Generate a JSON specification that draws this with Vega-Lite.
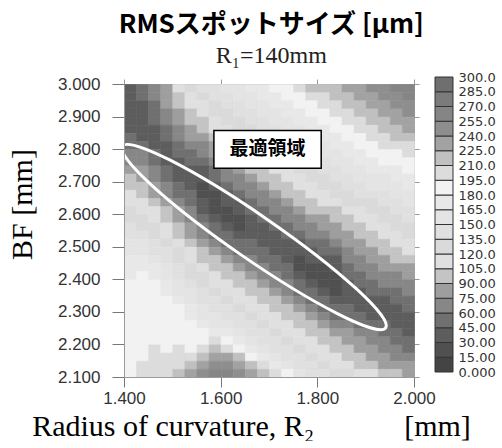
{
"$schema": "https://vega.github.io/schema/vega-lite/v6.json",
"background": "white",
"autosize": {"type": "pad"},
"padding": {"left": 7, "top": 12, "right": 4, "bottom": 0},
"title": {"text": "RMSスポットサイズ [μm]", "subtitle": "R₁=140mm", "font": "Noto Sans CJK JP", "fontSize": 26, "fontWeight": "bold", "color": "#000000", "subtitleFont": "Liberation Serif", "subtitleFontSize": 24, "subtitleColor": "#222222", "subtitlePadding": 6, "anchor": "middle", "dx": 20, "offset": 3},
"datasets": {
"grid": [
{"r":1.4125,"b":2.9875,"v":44},{"r":1.4125,"b":2.9625,"v":41},{"r":1.4125,"b":2.9375,"v":38},{"r":1.4125,"b":2.9125,"v":35},{"r":1.4125,"b":2.8875,"v":34},{"r":1.4125,"b":2.8625,"v":42},{"r":1.4125,"b":2.8375,"v":50},{"r":1.4125,"b":2.8125,"v":58},{"r":1.4125,"b":2.7875,"v":66},{"r":1.4125,"b":2.7625,"v":74},{"r":1.4125,"b":2.7375,"v":82},{"r":1.4125,"b":2.7125,"v":90},{"r":1.4125,"b":2.6875,"v":98},{"r":1.4125,"b":2.6625,"v":106},{"r":1.4125,"b":2.6375,"v":114},{"r":1.4125,"b":2.6125,"v":122},{"r":1.4125,"b":2.5875,"v":130},{"r":1.4125,"b":2.5625,"v":138},{"r":1.4125,"b":2.5375,"v":146},{"r":1.4125,"b":2.5125,"v":154},{"r":1.4125,"b":2.4875,"v":162},{"r":1.4125,"b":2.4625,"v":170},{"r":1.4125,"b":2.4375,"v":177},{"r":1.4125,"b":2.4125,"v":178},{"r":1.4125,"b":2.3875,"v":180},{"r":1.4125,"b":2.3625,"v":181},{"r":1.4125,"b":2.3375,"v":182},{"r":1.4125,"b":2.3125,"v":183},{"r":1.4125,"b":2.2875,"v":185},{"r":1.4125,"b":2.2625,"v":186},{"r":1.4125,"b":2.2375,"v":187},{"r":1.4125,"b":2.2125,"v":188},{"r":1.4125,"b":2.1875,"v":190},{"r":1.4125,"b":2.1625,"v":191},{"r":1.4125,"b":2.1375,"v":192},{"r":1.4125,"b":2.1125,"v":193},
{"r":1.4375,"b":2.9875,"v":52},{"r":1.4375,"b":2.9625,"v":48},{"r":1.4375,"b":2.9375,"v":44},{"r":1.4375,"b":2.9125,"v":40},{"r":1.4375,"b":2.8875,"v":36},{"r":1.4375,"b":2.8625,"v":35},{"r":1.4375,"b":2.8375,"v":44},{"r":1.4375,"b":2.8125,"v":52},{"r":1.4375,"b":2.7875,"v":60},{"r":1.4375,"b":2.7625,"v":68},{"r":1.4375,"b":2.7375,"v":77},{"r":1.4375,"b":2.7125,"v":85},{"r":1.4375,"b":2.6875,"v":93},{"r":1.4375,"b":2.6625,"v":101},{"r":1.4375,"b":2.6375,"v":110},{"r":1.4375,"b":2.6125,"v":118},{"r":1.4375,"b":2.5875,"v":126},{"r":1.4375,"b":2.5625,"v":134},{"r":1.4375,"b":2.5375,"v":143},{"r":1.4375,"b":2.5125,"v":151},{"r":1.4375,"b":2.4875,"v":159},{"r":1.4375,"b":2.4625,"v":167},{"r":1.4375,"b":2.4375,"v":176},{"r":1.4375,"b":2.4125,"v":182},{"r":1.4375,"b":2.3875,"v":183},{"r":1.4375,"b":2.3625,"v":184},{"r":1.4375,"b":2.3375,"v":186},{"r":1.4375,"b":2.3125,"v":187},{"r":1.4375,"b":2.2875,"v":188},{"r":1.4375,"b":2.2625,"v":189},{"r":1.4375,"b":2.2375,"v":191},{"r":1.4375,"b":2.2125,"v":192},{"r":1.4375,"b":2.1875,"v":193},{"r":1.4375,"b":2.1625,"v":194},{"r":1.4375,"b":2.1375,"v":196},{"r":1.4375,"b":2.1125,"v":197},
{"r":1.4625,"b":2.9875,"v":68},{"r":1.4625,"b":2.9625,"v":62},{"r":1.4625,"b":2.9375,"v":57},{"r":1.4625,"b":2.9125,"v":51},{"r":1.4625,"b":2.8875,"v":45},{"r":1.4625,"b":2.8625,"v":39},{"r":1.4625,"b":2.8375,"v":34},{"r":1.4625,"b":2.8125,"v":38},{"r":1.4625,"b":2.7875,"v":46},{"r":1.4625,"b":2.7625,"v":55},{"r":1.4625,"b":2.7375,"v":63},{"r":1.4625,"b":2.7125,"v":72},{"r":1.4625,"b":2.6875,"v":80},{"r":1.4625,"b":2.6625,"v":89},{"r":1.4625,"b":2.6375,"v":97},{"r":1.4625,"b":2.6125,"v":106},{"r":1.4625,"b":2.5875,"v":114},{"r":1.4625,"b":2.5625,"v":123},{"r":1.4625,"b":2.5375,"v":131},{"r":1.4625,"b":2.5125,"v":140},{"r":1.4625,"b":2.4875,"v":148},{"r":1.4625,"b":2.4625,"v":157},{"r":1.4625,"b":2.4375,"v":165},{"r":1.4625,"b":2.4125,"v":174},{"r":1.4625,"b":2.3875,"v":182},{"r":1.4625,"b":2.3625,"v":186},{"r":1.4625,"b":2.3375,"v":187},{"r":1.4625,"b":2.3125,"v":188},{"r":1.4625,"b":2.2875,"v":190},{"r":1.4625,"b":2.2625,"v":191},{"r":1.4625,"b":2.2375,"v":192},{"r":1.4625,"b":2.2125,"v":193},{"r":1.4625,"b":2.1875,"v":195},{"r":1.4625,"b":2.1625,"v":196},{"r":1.4625,"b":2.1375,"v":197},{"r":1.4625,"b":2.1125,"v":198},
{"r":1.4875,"b":2.9875,"v":89},{"r":1.4875,"b":2.9625,"v":82},{"r":1.4875,"b":2.9375,"v":75},{"r":1.4875,"b":2.9125,"v":68},{"r":1.4875,"b":2.8875,"v":61},{"r":1.4875,"b":2.8625,"v":54},{"r":1.4875,"b":2.8375,"v":47},{"r":1.4875,"b":2.8125,"v":40},{"r":1.4875,"b":2.7875,"v":33},{"r":1.4875,"b":2.7625,"v":40},{"r":1.4875,"b":2.7375,"v":48},{"r":1.4875,"b":2.7125,"v":57},{"r":1.4875,"b":2.6875,"v":66},{"r":1.4875,"b":2.6625,"v":74},{"r":1.4875,"b":2.6375,"v":83},{"r":1.4875,"b":2.6125,"v":92},{"r":1.4875,"b":2.5875,"v":100},{"r":1.4875,"b":2.5625,"v":109},{"r":1.4875,"b":2.5375,"v":117},{"r":1.4875,"b":2.5125,"v":126},{"r":1.4875,"b":2.4875,"v":135},{"r":1.4875,"b":2.4625,"v":143},{"r":1.4875,"b":2.4375,"v":152},{"r":1.4875,"b":2.4125,"v":161},{"r":1.4875,"b":2.3875,"v":169},{"r":1.4875,"b":2.3625,"v":178},{"r":1.4875,"b":2.3375,"v":186},{"r":1.4875,"b":2.3125,"v":188},{"r":1.4875,"b":2.2875,"v":190},{"r":1.4875,"b":2.2625,"v":191},{"r":1.4875,"b":2.2375,"v":192},{"r":1.4875,"b":2.2125,"v":193},{"r":1.4875,"b":2.1875,"v":194},{"r":1.4875,"b":2.1625,"v":196},{"r":1.4875,"b":2.1375,"v":197},{"r":1.4875,"b":2.1125,"v":202},
{"r":1.5125,"b":2.9875,"v":106},{"r":1.5125,"b":2.9625,"v":99},{"r":1.5125,"b":2.9375,"v":91},{"r":1.5125,"b":2.9125,"v":84},{"r":1.5125,"b":2.8875,"v":76},{"r":1.5125,"b":2.8625,"v":69},{"r":1.5125,"b":2.8375,"v":61},{"r":1.5125,"b":2.8125,"v":54},{"r":1.5125,"b":2.7875,"v":46},{"r":1.5125,"b":2.7625,"v":39},{"r":1.5125,"b":2.7375,"v":33},{"r":1.5125,"b":2.7125,"v":42},{"r":1.5125,"b":2.6875,"v":50},{"r":1.5125,"b":2.6625,"v":59},{"r":1.5125,"b":2.6375,"v":68},{"r":1.5125,"b":2.6125,"v":77},{"r":1.5125,"b":2.5875,"v":85},{"r":1.5125,"b":2.5625,"v":94},{"r":1.5125,"b":2.5375,"v":103},{"r":1.5125,"b":2.5125,"v":112},{"r":1.5125,"b":2.4875,"v":120},{"r":1.5125,"b":2.4625,"v":129},{"r":1.5125,"b":2.4375,"v":138},{"r":1.5125,"b":2.4125,"v":147},{"r":1.5125,"b":2.3875,"v":155},{"r":1.5125,"b":2.3625,"v":164},{"r":1.5125,"b":2.3375,"v":173},{"r":1.5125,"b":2.3125,"v":182},{"r":1.5125,"b":2.2875,"v":190},{"r":1.5125,"b":2.2625,"v":191},{"r":1.5125,"b":2.2375,"v":192},{"r":1.5125,"b":2.2125,"v":193},{"r":1.5125,"b":2.1875,"v":195},{"r":1.5125,"b":2.1625,"v":196},{"r":1.5125,"b":2.1375,"v":204},{"r":1.5125,"b":2.1125,"v":217},
{"r":1.5375,"b":2.9875,"v":121},{"r":1.5375,"b":2.9625,"v":113},{"r":1.5375,"b":2.9375,"v":106},{"r":1.5375,"b":2.9125,"v":98},{"r":1.5375,"b":2.8875,"v":90},{"r":1.5375,"b":2.8625,"v":82},{"r":1.5375,"b":2.8375,"v":75},{"r":1.5375,"b":2.8125,"v":67},{"r":1.5375,"b":2.7875,"v":59},{"r":1.5375,"b":2.7625,"v":51},{"r":1.5375,"b":2.7375,"v":44},{"r":1.5375,"b":2.7125,"v":36},{"r":1.5375,"b":2.6875,"v":36},{"r":1.5375,"b":2.6625,"v":45},{"r":1.5375,"b":2.6375,"v":54},{"r":1.5375,"b":2.6125,"v":63},{"r":1.5375,"b":2.5875,"v":71},{"r":1.5375,"b":2.5625,"v":80},{"r":1.5375,"b":2.5375,"v":89},{"r":1.5375,"b":2.5125,"v":98},{"r":1.5375,"b":2.4875,"v":106},{"r":1.5375,"b":2.4625,"v":115},{"r":1.5375,"b":2.4375,"v":124},{"r":1.5375,"b":2.4125,"v":133},{"r":1.5375,"b":2.3875,"v":141},{"r":1.5375,"b":2.3625,"v":150},{"r":1.5375,"b":2.3375,"v":159},{"r":1.5375,"b":2.3125,"v":168},{"r":1.5375,"b":2.2875,"v":176},{"r":1.5375,"b":2.2625,"v":185},{"r":1.5375,"b":2.2375,"v":190},{"r":1.5375,"b":2.2125,"v":191},{"r":1.5375,"b":2.1875,"v":193},{"r":1.5375,"b":2.1625,"v":204},{"r":1.5375,"b":2.1375,"v":217},{"r":1.5375,"b":2.1125,"v":230},
{"r":1.5625,"b":2.9875,"v":135},{"r":1.5625,"b":2.9625,"v":127},{"r":1.5625,"b":2.9375,"v":119},{"r":1.5625,"b":2.9125,"v":111},{"r":1.5625,"b":2.8875,"v":103},{"r":1.5625,"b":2.8625,"v":95},{"r":1.5625,"b":2.8375,"v":87},{"r":1.5625,"b":2.8125,"v":73},{"r":1.5625,"b":2.7875,"v":65},{"r":1.5625,"b":2.7625,"v":51},{"r":1.5625,"b":2.7375,"v":43},{"r":1.5625,"b":2.7125,"v":35},{"r":1.5625,"b":2.6875,"v":27},{"r":1.5625,"b":2.6625,"v":21},{"r":1.5625,"b":2.6375,"v":30},{"r":1.5625,"b":2.6125,"v":38},{"r":1.5625,"b":2.5875,"v":47},{"r":1.5625,"b":2.5625,"v":62},{"r":1.5625,"b":2.5375,"v":71},{"r":1.5625,"b":2.5125,"v":85},{"r":1.5625,"b":2.4875,"v":94},{"r":1.5625,"b":2.4625,"v":103},{"r":1.5625,"b":2.4375,"v":112},{"r":1.5625,"b":2.4125,"v":120},{"r":1.5625,"b":2.3875,"v":129},{"r":1.5625,"b":2.3625,"v":138},{"r":1.5625,"b":2.3375,"v":147},{"r":1.5625,"b":2.3125,"v":155},{"r":1.5625,"b":2.2875,"v":164},{"r":1.5625,"b":2.2625,"v":173},{"r":1.5625,"b":2.2375,"v":182},{"r":1.5625,"b":2.2125,"v":191},{"r":1.5625,"b":2.1875,"v":204},{"r":1.5625,"b":2.1625,"v":217},{"r":1.5625,"b":2.1375,"v":230},{"r":1.5625,"b":2.1125,"v":244},
{"r":1.5875,"b":2.9875,"v":145},{"r":1.5875,"b":2.9625,"v":137},{"r":1.5875,"b":2.9375,"v":129},{"r":1.5875,"b":2.9125,"v":121},{"r":1.5875,"b":2.8875,"v":113},{"r":1.5875,"b":2.8625,"v":105},{"r":1.5875,"b":2.8375,"v":97},{"r":1.5875,"b":2.8125,"v":89},{"r":1.5875,"b":2.7875,"v":81},{"r":1.5875,"b":2.7625,"v":67},{"r":1.5875,"b":2.7375,"v":59},{"r":1.5875,"b":2.7125,"v":45},{"r":1.5875,"b":2.6875,"v":37},{"r":1.5875,"b":2.6625,"v":29},{"r":1.5875,"b":2.6375,"v":21},{"r":1.5875,"b":2.6125,"v":28},{"r":1.5875,"b":2.5875,"v":37},{"r":1.5875,"b":2.5625,"v":45},{"r":1.5875,"b":2.5375,"v":54},{"r":1.5875,"b":2.5125,"v":69},{"r":1.5875,"b":2.4875,"v":78},{"r":1.5875,"b":2.4625,"v":92},{"r":1.5875,"b":2.4375,"v":101},{"r":1.5875,"b":2.4125,"v":110},{"r":1.5875,"b":2.3875,"v":119},{"r":1.5875,"b":2.3625,"v":127},{"r":1.5875,"b":2.3375,"v":136},{"r":1.5875,"b":2.3125,"v":145},{"r":1.5875,"b":2.2875,"v":154},{"r":1.5875,"b":2.2625,"v":162},{"r":1.5875,"b":2.2375,"v":175},{"r":1.5875,"b":2.2125,"v":196},{"r":1.5875,"b":2.1875,"v":217},{"r":1.5875,"b":2.1625,"v":231},{"r":1.5875,"b":2.1375,"v":244},{"r":1.5875,"b":2.1125,"v":257},
{"r":1.6125,"b":2.9875,"v":154},{"r":1.6125,"b":2.9625,"v":146},{"r":1.6125,"b":2.9375,"v":138},{"r":1.6125,"b":2.9125,"v":130},{"r":1.6125,"b":2.8875,"v":122},{"r":1.6125,"b":2.8625,"v":114},{"r":1.6125,"b":2.8375,"v":106},{"r":1.6125,"b":2.8125,"v":98},{"r":1.6125,"b":2.7875,"v":90},{"r":1.6125,"b":2.7625,"v":82},{"r":1.6125,"b":2.7375,"v":68},{"r":1.6125,"b":2.7125,"v":60},{"r":1.6125,"b":2.6875,"v":46},{"r":1.6125,"b":2.6625,"v":38},{"r":1.6125,"b":2.6375,"v":30},{"r":1.6125,"b":2.6125,"v":22},{"r":1.6125,"b":2.5875,"v":27},{"r":1.6125,"b":2.5625,"v":36},{"r":1.6125,"b":2.5375,"v":45},{"r":1.6125,"b":2.5125,"v":53},{"r":1.6125,"b":2.4875,"v":68},{"r":1.6125,"b":2.4625,"v":77},{"r":1.6125,"b":2.4375,"v":92},{"r":1.6125,"b":2.4125,"v":100},{"r":1.6125,"b":2.3875,"v":109},{"r":1.6125,"b":2.3625,"v":118},{"r":1.6125,"b":2.3375,"v":127},{"r":1.6125,"b":2.3125,"v":135},{"r":1.6125,"b":2.2875,"v":144},{"r":1.6125,"b":2.2625,"v":153},{"r":1.6125,"b":2.2375,"v":168},{"r":1.6125,"b":2.2125,"v":188},{"r":1.6125,"b":2.1875,"v":209},{"r":1.6125,"b":2.1625,"v":231},{"r":1.6125,"b":2.1375,"v":246},{"r":1.6125,"b":2.1125,"v":259},
{"r":1.6375,"b":2.9875,"v":162},{"r":1.6375,"b":2.9625,"v":154},{"r":1.6375,"b":2.9375,"v":146},{"r":1.6375,"b":2.9125,"v":138},{"r":1.6375,"b":2.8875,"v":130},{"r":1.6375,"b":2.8625,"v":122},{"r":1.6375,"b":2.8375,"v":114},{"r":1.6375,"b":2.8125,"v":106},{"r":1.6375,"b":2.7875,"v":98},{"r":1.6375,"b":2.7625,"v":90},{"r":1.6375,"b":2.7375,"v":82},{"r":1.6375,"b":2.7125,"v":68},{"r":1.6375,"b":2.6875,"v":60},{"r":1.6375,"b":2.6625,"v":46},{"r":1.6375,"b":2.6375,"v":38},{"r":1.6375,"b":2.6125,"v":30},{"r":1.6375,"b":2.5875,"v":22},{"r":1.6375,"b":2.5625,"v":27},{"r":1.6375,"b":2.5375,"v":36},{"r":1.6375,"b":2.5125,"v":45},{"r":1.6375,"b":2.4875,"v":53},{"r":1.6375,"b":2.4625,"v":68},{"r":1.6375,"b":2.4375,"v":77},{"r":1.6375,"b":2.4125,"v":92},{"r":1.6375,"b":2.3875,"v":100},{"r":1.6375,"b":2.3625,"v":109},{"r":1.6375,"b":2.3375,"v":118},{"r":1.6375,"b":2.3125,"v":127},{"r":1.6375,"b":2.2875,"v":135},{"r":1.6375,"b":2.2625,"v":144},{"r":1.6375,"b":2.2375,"v":153},{"r":1.6375,"b":2.2125,"v":171},{"r":1.6375,"b":2.1875,"v":191},{"r":1.6375,"b":2.1625,"v":212},{"r":1.6375,"b":2.1375,"v":233},{"r":1.6375,"b":2.1125,"v":248},
{"r":1.6625,"b":2.9875,"v":170},{"r":1.6625,"b":2.9625,"v":162},{"r":1.6625,"b":2.9375,"v":154},{"r":1.6625,"b":2.9125,"v":146},{"r":1.6625,"b":2.8875,"v":138},{"r":1.6625,"b":2.8625,"v":130},{"r":1.6625,"b":2.8375,"v":122},{"r":1.6625,"b":2.8125,"v":114},{"r":1.6625,"b":2.7875,"v":106},{"r":1.6625,"b":2.7625,"v":98},{"r":1.6625,"b":2.7375,"v":90},{"r":1.6625,"b":2.7125,"v":82},{"r":1.6625,"b":2.6875,"v":74},{"r":1.6625,"b":2.6625,"v":66},{"r":1.6625,"b":2.6375,"v":58},{"r":1.6625,"b":2.6125,"v":50},{"r":1.6625,"b":2.5875,"v":42},{"r":1.6625,"b":2.5625,"v":34},{"r":1.6625,"b":2.5375,"v":39},{"r":1.6625,"b":2.5125,"v":48},{"r":1.6625,"b":2.4875,"v":57},{"r":1.6625,"b":2.4625,"v":65},{"r":1.6625,"b":2.4375,"v":74},{"r":1.6625,"b":2.4125,"v":83},{"r":1.6625,"b":2.3875,"v":92},{"r":1.6625,"b":2.3625,"v":100},{"r":1.6625,"b":2.3375,"v":109},{"r":1.6625,"b":2.3125,"v":118},{"r":1.6625,"b":2.2875,"v":127},{"r":1.6625,"b":2.2625,"v":135},{"r":1.6625,"b":2.2375,"v":144},{"r":1.6625,"b":2.2125,"v":153},{"r":1.6625,"b":2.1875,"v":173},{"r":1.6625,"b":2.1625,"v":193},{"r":1.6625,"b":2.1375,"v":214},{"r":1.6625,"b":2.1125,"v":236},
{"r":1.6875,"b":2.9875,"v":178},{"r":1.6875,"b":2.9625,"v":170},{"r":1.6875,"b":2.9375,"v":162},{"r":1.6875,"b":2.9125,"v":154},{"r":1.6875,"b":2.8875,"v":146},{"r":1.6875,"b":2.8625,"v":138},{"r":1.6875,"b":2.8375,"v":130},{"r":1.6875,"b":2.8125,"v":122},{"r":1.6875,"b":2.7875,"v":114},{"r":1.6875,"b":2.7625,"v":106},{"r":1.6875,"b":2.7375,"v":98},{"r":1.6875,"b":2.7125,"v":90},{"r":1.6875,"b":2.6875,"v":82},{"r":1.6875,"b":2.6625,"v":74},{"r":1.6875,"b":2.6375,"v":66},{"r":1.6875,"b":2.6125,"v":58},{"r":1.6875,"b":2.5875,"v":50},{"r":1.6875,"b":2.5625,"v":42},{"r":1.6875,"b":2.5375,"v":34},{"r":1.6875,"b":2.5125,"v":39},{"r":1.6875,"b":2.4875,"v":48},{"r":1.6875,"b":2.4625,"v":57},{"r":1.6875,"b":2.4375,"v":65},{"r":1.6875,"b":2.4125,"v":74},{"r":1.6875,"b":2.3875,"v":83},{"r":1.6875,"b":2.3625,"v":92},{"r":1.6875,"b":2.3375,"v":100},{"r":1.6875,"b":2.3125,"v":109},{"r":1.6875,"b":2.2875,"v":118},{"r":1.6875,"b":2.2625,"v":127},{"r":1.6875,"b":2.2375,"v":135},{"r":1.6875,"b":2.2125,"v":144},{"r":1.6875,"b":2.1875,"v":154},{"r":1.6875,"b":2.1625,"v":175},{"r":1.6875,"b":2.1375,"v":196},{"r":1.6875,"b":2.1125,"v":217},
{"r":1.7125,"b":2.9875,"v":186},{"r":1.7125,"b":2.9625,"v":178},{"r":1.7125,"b":2.9375,"v":170},{"r":1.7125,"b":2.9125,"v":162},{"r":1.7125,"b":2.8875,"v":154},{"r":1.7125,"b":2.8625,"v":146},{"r":1.7125,"b":2.8375,"v":138},{"r":1.7125,"b":2.8125,"v":130},{"r":1.7125,"b":2.7875,"v":122},{"r":1.7125,"b":2.7625,"v":114},{"r":1.7125,"b":2.7375,"v":106},{"r":1.7125,"b":2.7125,"v":98},{"r":1.7125,"b":2.6875,"v":90},{"r":1.7125,"b":2.6625,"v":82},{"r":1.7125,"b":2.6375,"v":74},{"r":1.7125,"b":2.6125,"v":66},{"r":1.7125,"b":2.5875,"v":58},{"r":1.7125,"b":2.5625,"v":50},{"r":1.7125,"b":2.5375,"v":42},{"r":1.7125,"b":2.5125,"v":34},{"r":1.7125,"b":2.4875,"v":39},{"r":1.7125,"b":2.4625,"v":48},{"r":1.7125,"b":2.4375,"v":57},{"r":1.7125,"b":2.4125,"v":65},{"r":1.7125,"b":2.3875,"v":74},{"r":1.7125,"b":2.3625,"v":83},{"r":1.7125,"b":2.3375,"v":92},{"r":1.7125,"b":2.3125,"v":100},{"r":1.7125,"b":2.2875,"v":109},{"r":1.7125,"b":2.2625,"v":118},{"r":1.7125,"b":2.2375,"v":127},{"r":1.7125,"b":2.2125,"v":135},{"r":1.7125,"b":2.1875,"v":144},{"r":1.7125,"b":2.1625,"v":157},{"r":1.7125,"b":2.1375,"v":178},{"r":1.7125,"b":2.1125,"v":198},
{"r":1.7375,"b":2.9875,"v":194},{"r":1.7375,"b":2.9625,"v":186},{"r":1.7375,"b":2.9375,"v":178},{"r":1.7375,"b":2.9125,"v":170},{"r":1.7375,"b":2.8875,"v":162},{"r":1.7375,"b":2.8625,"v":154},{"r":1.7375,"b":2.8375,"v":146},{"r":1.7375,"b":2.8125,"v":138},{"r":1.7375,"b":2.7875,"v":130},{"r":1.7375,"b":2.7625,"v":122},{"r":1.7375,"b":2.7375,"v":114},{"r":1.7375,"b":2.7125,"v":106},{"r":1.7375,"b":2.6875,"v":98},{"r":1.7375,"b":2.6625,"v":90},{"r":1.7375,"b":2.6375,"v":82},{"r":1.7375,"b":2.6125,"v":74},{"r":1.7375,"b":2.5875,"v":66},{"r":1.7375,"b":2.5625,"v":58},{"r":1.7375,"b":2.5375,"v":50},{"r":1.7375,"b":2.5125,"v":42},{"r":1.7375,"b":2.4875,"v":34},{"r":1.7375,"b":2.4625,"v":39},{"r":1.7375,"b":2.4375,"v":48},{"r":1.7375,"b":2.4125,"v":57},{"r":1.7375,"b":2.3875,"v":65},{"r":1.7375,"b":2.3625,"v":74},{"r":1.7375,"b":2.3375,"v":83},{"r":1.7375,"b":2.3125,"v":92},{"r":1.7375,"b":2.2875,"v":100},{"r":1.7375,"b":2.2625,"v":109},{"r":1.7375,"b":2.2375,"v":118},{"r":1.7375,"b":2.2125,"v":127},{"r":1.7375,"b":2.1875,"v":135},{"r":1.7375,"b":2.1625,"v":144},{"r":1.7375,"b":2.1375,"v":159},{"r":1.7375,"b":2.1125,"v":180},
{"r":1.7625,"b":2.9875,"v":202},{"r":1.7625,"b":2.9625,"v":194},{"r":1.7625,"b":2.9375,"v":186},{"r":1.7625,"b":2.9125,"v":178},{"r":1.7625,"b":2.8875,"v":170},{"r":1.7625,"b":2.8625,"v":162},{"r":1.7625,"b":2.8375,"v":154},{"r":1.7625,"b":2.8125,"v":146},{"r":1.7625,"b":2.7875,"v":138},{"r":1.7625,"b":2.7625,"v":130},{"r":1.7625,"b":2.7375,"v":122},{"r":1.7625,"b":2.7125,"v":114},{"r":1.7625,"b":2.6875,"v":106},{"r":1.7625,"b":2.6625,"v":98},{"r":1.7625,"b":2.6375,"v":90},{"r":1.7625,"b":2.6125,"v":82},{"r":1.7625,"b":2.5875,"v":68},{"r":1.7625,"b":2.5625,"v":60},{"r":1.7625,"b":2.5375,"v":46},{"r":1.7625,"b":2.5125,"v":38},{"r":1.7625,"b":2.4875,"v":30},{"r":1.7625,"b":2.4625,"v":22},{"r":1.7625,"b":2.4375,"v":27},{"r":1.7625,"b":2.4125,"v":36},{"r":1.7625,"b":2.3875,"v":45},{"r":1.7625,"b":2.3625,"v":53},{"r":1.7625,"b":2.3375,"v":68},{"r":1.7625,"b":2.3125,"v":77},{"r":1.7625,"b":2.2875,"v":92},{"r":1.7625,"b":2.2625,"v":100},{"r":1.7625,"b":2.2375,"v":109},{"r":1.7625,"b":2.2125,"v":118},{"r":1.7625,"b":2.1875,"v":127},{"r":1.7625,"b":2.1625,"v":135},{"r":1.7625,"b":2.1375,"v":144},{"r":1.7625,"b":2.1125,"v":162},
{"r":1.7875,"b":2.9875,"v":210},{"r":1.7875,"b":2.9625,"v":202},{"r":1.7875,"b":2.9375,"v":194},{"r":1.7875,"b":2.9125,"v":186},{"r":1.7875,"b":2.8875,"v":178},{"r":1.7875,"b":2.8625,"v":170},{"r":1.7875,"b":2.8375,"v":162},{"r":1.7875,"b":2.8125,"v":154},{"r":1.7875,"b":2.7875,"v":146},{"r":1.7875,"b":2.7625,"v":138},{"r":1.7875,"b":2.7375,"v":130},{"r":1.7875,"b":2.7125,"v":122},{"r":1.7875,"b":2.6875,"v":114},{"r":1.7875,"b":2.6625,"v":106},{"r":1.7875,"b":2.6375,"v":98},{"r":1.7875,"b":2.6125,"v":90},{"r":1.7875,"b":2.5875,"v":82},{"r":1.7875,"b":2.5625,"v":68},{"r":1.7875,"b":2.5375,"v":60},{"r":1.7875,"b":2.5125,"v":46},{"r":1.7875,"b":2.4875,"v":38},{"r":1.7875,"b":2.4625,"v":30},{"r":1.7875,"b":2.4375,"v":22},{"r":1.7875,"b":2.4125,"v":27},{"r":1.7875,"b":2.3875,"v":36},{"r":1.7875,"b":2.3625,"v":45},{"r":1.7875,"b":2.3375,"v":53},{"r":1.7875,"b":2.3125,"v":68},{"r":1.7875,"b":2.2875,"v":77},{"r":1.7875,"b":2.2625,"v":92},{"r":1.7875,"b":2.2375,"v":100},{"r":1.7875,"b":2.2125,"v":109},{"r":1.7875,"b":2.1875,"v":118},{"r":1.7875,"b":2.1625,"v":127},{"r":1.7875,"b":2.1375,"v":135},{"r":1.7875,"b":2.1125,"v":144},
{"r":1.8125,"b":2.9875,"v":217},{"r":1.8125,"b":2.9625,"v":209},{"r":1.8125,"b":2.9375,"v":201},{"r":1.8125,"b":2.9125,"v":193},{"r":1.8125,"b":2.8875,"v":185},{"r":1.8125,"b":2.8625,"v":177},{"r":1.8125,"b":2.8375,"v":169},{"r":1.8125,"b":2.8125,"v":161},{"r":1.8125,"b":2.7875,"v":153},{"r":1.8125,"b":2.7625,"v":145},{"r":1.8125,"b":2.7375,"v":137},{"r":1.8125,"b":2.7125,"v":129},{"r":1.8125,"b":2.6875,"v":121},{"r":1.8125,"b":2.6625,"v":113},{"r":1.8125,"b":2.6375,"v":105},{"r":1.8125,"b":2.6125,"v":97},{"r":1.8125,"b":2.5875,"v":89},{"r":1.8125,"b":2.5625,"v":81},{"r":1.8125,"b":2.5375,"v":67},{"r":1.8125,"b":2.5125,"v":59},{"r":1.8125,"b":2.4875,"v":45},{"r":1.8125,"b":2.4625,"v":37},{"r":1.8125,"b":2.4375,"v":29},{"r":1.8125,"b":2.4125,"v":21},{"r":1.8125,"b":2.3875,"v":28},{"r":1.8125,"b":2.3625,"v":36},{"r":1.8125,"b":2.3375,"v":45},{"r":1.8125,"b":2.3125,"v":54},{"r":1.8125,"b":2.2875,"v":69},{"r":1.8125,"b":2.2625,"v":77},{"r":1.8125,"b":2.2375,"v":92},{"r":1.8125,"b":2.2125,"v":101},{"r":1.8125,"b":2.1875,"v":110},{"r":1.8125,"b":2.1625,"v":118},{"r":1.8125,"b":2.1375,"v":127},{"r":1.8125,"b":2.1125,"v":136},
{"r":1.8375,"b":2.9875,"v":224},{"r":1.8375,"b":2.9625,"v":216},{"r":1.8375,"b":2.9375,"v":208},{"r":1.8375,"b":2.9125,"v":200},{"r":1.8375,"b":2.8875,"v":192},{"r":1.8375,"b":2.8625,"v":184},{"r":1.8375,"b":2.8375,"v":176},{"r":1.8375,"b":2.8125,"v":168},{"r":1.8375,"b":2.7875,"v":160},{"r":1.8375,"b":2.7625,"v":152},{"r":1.8375,"b":2.7375,"v":144},{"r":1.8375,"b":2.7125,"v":136},{"r":1.8375,"b":2.6875,"v":128},{"r":1.8375,"b":2.6625,"v":120},{"r":1.8375,"b":2.6375,"v":112},{"r":1.8375,"b":2.6125,"v":104},{"r":1.8375,"b":2.5875,"v":96},{"r":1.8375,"b":2.5625,"v":88},{"r":1.8375,"b":2.5375,"v":80},{"r":1.8375,"b":2.5125,"v":66},{"r":1.8375,"b":2.4875,"v":58},{"r":1.8375,"b":2.4625,"v":44},{"r":1.8375,"b":2.4375,"v":36},{"r":1.8375,"b":2.4125,"v":28},{"r":1.8375,"b":2.3875,"v":20},{"r":1.8375,"b":2.3625,"v":28},{"r":1.8375,"b":2.3375,"v":37},{"r":1.8375,"b":2.3125,"v":46},{"r":1.8375,"b":2.2875,"v":54},{"r":1.8375,"b":2.2625,"v":69},{"r":1.8375,"b":2.2375,"v":78},{"r":1.8375,"b":2.2125,"v":93},{"r":1.8375,"b":2.1875,"v":101},{"r":1.8375,"b":2.1625,"v":110},{"r":1.8375,"b":2.1375,"v":119},{"r":1.8375,"b":2.1125,"v":128},
{"r":1.8625,"b":2.9875,"v":232},{"r":1.8625,"b":2.9625,"v":224},{"r":1.8625,"b":2.9375,"v":216},{"r":1.8625,"b":2.9125,"v":208},{"r":1.8625,"b":2.8875,"v":200},{"r":1.8625,"b":2.8625,"v":192},{"r":1.8625,"b":2.8375,"v":184},{"r":1.8625,"b":2.8125,"v":176},{"r":1.8625,"b":2.7875,"v":168},{"r":1.8625,"b":2.7625,"v":160},{"r":1.8625,"b":2.7375,"v":152},{"r":1.8625,"b":2.7125,"v":144},{"r":1.8625,"b":2.6875,"v":136},{"r":1.8625,"b":2.6625,"v":128},{"r":1.8625,"b":2.6375,"v":120},{"r":1.8625,"b":2.6125,"v":112},{"r":1.8625,"b":2.5875,"v":104},{"r":1.8625,"b":2.5625,"v":96},{"r":1.8625,"b":2.5375,"v":88},{"r":1.8625,"b":2.5125,"v":80},{"r":1.8625,"b":2.4875,"v":72},{"r":1.8625,"b":2.4625,"v":64},{"r":1.8625,"b":2.4375,"v":56},{"r":1.8625,"b":2.4125,"v":48},{"r":1.8625,"b":2.3875,"v":40},{"r":1.8625,"b":2.3625,"v":33},{"r":1.8625,"b":2.3375,"v":41},{"r":1.8625,"b":2.3125,"v":50},{"r":1.8625,"b":2.2875,"v":59},{"r":1.8625,"b":2.2625,"v":68},{"r":1.8625,"b":2.2375,"v":76},{"r":1.8625,"b":2.2125,"v":85},{"r":1.8625,"b":2.1875,"v":94},{"r":1.8625,"b":2.1625,"v":103},{"r":1.8625,"b":2.1375,"v":111},{"r":1.8625,"b":2.1125,"v":120},
{"r":1.8875,"b":2.9875,"v":239},{"r":1.8875,"b":2.9625,"v":231},{"r":1.8875,"b":2.9375,"v":223},{"r":1.8875,"b":2.9125,"v":215},{"r":1.8875,"b":2.8875,"v":207},{"r":1.8875,"b":2.8625,"v":199},{"r":1.8875,"b":2.8375,"v":191},{"r":1.8875,"b":2.8125,"v":183},{"r":1.8875,"b":2.7875,"v":175},{"r":1.8875,"b":2.7625,"v":167},{"r":1.8875,"b":2.7375,"v":159},{"r":1.8875,"b":2.7125,"v":151},{"r":1.8875,"b":2.6875,"v":143},{"r":1.8875,"b":2.6625,"v":135},{"r":1.8875,"b":2.6375,"v":127},{"r":1.8875,"b":2.6125,"v":119},{"r":1.8875,"b":2.5875,"v":111},{"r":1.8875,"b":2.5625,"v":103},{"r":1.8875,"b":2.5375,"v":95},{"r":1.8875,"b":2.5125,"v":87},{"r":1.8875,"b":2.4875,"v":79},{"r":1.8875,"b":2.4625,"v":71},{"r":1.8875,"b":2.4375,"v":63},{"r":1.8875,"b":2.4125,"v":55},{"r":1.8875,"b":2.3875,"v":47},{"r":1.8875,"b":2.3625,"v":39},{"r":1.8875,"b":2.3375,"v":33},{"r":1.8875,"b":2.3125,"v":42},{"r":1.8875,"b":2.2875,"v":51},{"r":1.8875,"b":2.2625,"v":59},{"r":1.8875,"b":2.2375,"v":68},{"r":1.8875,"b":2.2125,"v":77},{"r":1.8875,"b":2.1875,"v":86},{"r":1.8875,"b":2.1625,"v":94},{"r":1.8875,"b":2.1375,"v":103},{"r":1.8875,"b":2.1125,"v":112},
{"r":1.9125,"b":2.9875,"v":246},{"r":1.9125,"b":2.9625,"v":238},{"r":1.9125,"b":2.9375,"v":230},{"r":1.9125,"b":2.9125,"v":222},{"r":1.9125,"b":2.8875,"v":214},{"r":1.9125,"b":2.8625,"v":206},{"r":1.9125,"b":2.8375,"v":198},{"r":1.9125,"b":2.8125,"v":190},{"r":1.9125,"b":2.7875,"v":182},{"r":1.9125,"b":2.7625,"v":174},{"r":1.9125,"b":2.7375,"v":166},{"r":1.9125,"b":2.7125,"v":158},{"r":1.9125,"b":2.6875,"v":150},{"r":1.9125,"b":2.6625,"v":142},{"r":1.9125,"b":2.6375,"v":134},{"r":1.9125,"b":2.6125,"v":126},{"r":1.9125,"b":2.5875,"v":118},{"r":1.9125,"b":2.5625,"v":110},{"r":1.9125,"b":2.5375,"v":102},{"r":1.9125,"b":2.5125,"v":94},{"r":1.9125,"b":2.4875,"v":86},{"r":1.9125,"b":2.4625,"v":78},{"r":1.9125,"b":2.4375,"v":70},{"r":1.9125,"b":2.4125,"v":62},{"r":1.9125,"b":2.3875,"v":54},{"r":1.9125,"b":2.3625,"v":46},{"r":1.9125,"b":2.3375,"v":38},{"r":1.9125,"b":2.3125,"v":35},{"r":1.9125,"b":2.2875,"v":43},{"r":1.9125,"b":2.2625,"v":52},{"r":1.9125,"b":2.2375,"v":61},{"r":1.9125,"b":2.2125,"v":70},{"r":1.9125,"b":2.1875,"v":78},{"r":1.9125,"b":2.1625,"v":87},{"r":1.9125,"b":2.1375,"v":96},{"r":1.9125,"b":2.1125,"v":105},
{"r":1.9375,"b":2.9875,"v":252},{"r":1.9375,"b":2.9625,"v":244},{"r":1.9375,"b":2.9375,"v":236},{"r":1.9375,"b":2.9125,"v":228},{"r":1.9375,"b":2.8875,"v":220},{"r":1.9375,"b":2.8625,"v":212},{"r":1.9375,"b":2.8375,"v":204},{"r":1.9375,"b":2.8125,"v":196},{"r":1.9375,"b":2.7875,"v":188},{"r":1.9375,"b":2.7625,"v":180},{"r":1.9375,"b":2.7375,"v":172},{"r":1.9375,"b":2.7125,"v":164},{"r":1.9375,"b":2.6875,"v":156},{"r":1.9375,"b":2.6625,"v":148},{"r":1.9375,"b":2.6375,"v":140},{"r":1.9375,"b":2.6125,"v":132},{"r":1.9375,"b":2.5875,"v":124},{"r":1.9375,"b":2.5625,"v":116},{"r":1.9375,"b":2.5375,"v":108},{"r":1.9375,"b":2.5125,"v":100},{"r":1.9375,"b":2.4875,"v":92},{"r":1.9375,"b":2.4625,"v":84},{"r":1.9375,"b":2.4375,"v":76},{"r":1.9375,"b":2.4125,"v":68},{"r":1.9375,"b":2.3875,"v":60},{"r":1.9375,"b":2.3625,"v":52},{"r":1.9375,"b":2.3375,"v":44},{"r":1.9375,"b":2.3125,"v":36},{"r":1.9375,"b":2.2875,"v":36},{"r":1.9375,"b":2.2625,"v":45},{"r":1.9375,"b":2.2375,"v":54},{"r":1.9375,"b":2.2125,"v":63},{"r":1.9375,"b":2.1875,"v":71},{"r":1.9375,"b":2.1625,"v":80},{"r":1.9375,"b":2.1375,"v":89},{"r":1.9375,"b":2.1125,"v":98},
{"r":1.9625,"b":2.9875,"v":258},{"r":1.9625,"b":2.9625,"v":250},{"r":1.9625,"b":2.9375,"v":242},{"r":1.9625,"b":2.9125,"v":234},{"r":1.9625,"b":2.8875,"v":226},{"r":1.9625,"b":2.8625,"v":218},{"r":1.9625,"b":2.8375,"v":210},{"r":1.9625,"b":2.8125,"v":202},{"r":1.9625,"b":2.7875,"v":194},{"r":1.9625,"b":2.7625,"v":186},{"r":1.9625,"b":2.7375,"v":178},{"r":1.9625,"b":2.7125,"v":170},{"r":1.9625,"b":2.6875,"v":162},{"r":1.9625,"b":2.6625,"v":154},{"r":1.9625,"b":2.6375,"v":146},{"r":1.9625,"b":2.6125,"v":138},{"r":1.9625,"b":2.5875,"v":130},{"r":1.9625,"b":2.5625,"v":122},{"r":1.9625,"b":2.5375,"v":114},{"r":1.9625,"b":2.5125,"v":106},{"r":1.9625,"b":2.4875,"v":98},{"r":1.9625,"b":2.4625,"v":90},{"r":1.9625,"b":2.4375,"v":82},{"r":1.9625,"b":2.4125,"v":74},{"r":1.9625,"b":2.3875,"v":66},{"r":1.9625,"b":2.3625,"v":58},{"r":1.9625,"b":2.3375,"v":50},{"r":1.9625,"b":2.3125,"v":42},{"r":1.9625,"b":2.2875,"v":34},{"r":1.9625,"b":2.2625,"v":38},{"r":1.9625,"b":2.2375,"v":47},{"r":1.9625,"b":2.2125,"v":56},{"r":1.9625,"b":2.1875,"v":64},{"r":1.9625,"b":2.1625,"v":73},{"r":1.9625,"b":2.1375,"v":82},{"r":1.9625,"b":2.1125,"v":91},
{"r":1.9875,"b":2.9875,"v":265},{"r":1.9875,"b":2.9625,"v":257},{"r":1.9875,"b":2.9375,"v":249},{"r":1.9875,"b":2.9125,"v":241},{"r":1.9875,"b":2.8875,"v":233},{"r":1.9875,"b":2.8625,"v":225},{"r":1.9875,"b":2.8375,"v":217},{"r":1.9875,"b":2.8125,"v":209},{"r":1.9875,"b":2.7875,"v":201},{"r":1.9875,"b":2.7625,"v":193},{"r":1.9875,"b":2.7375,"v":185},{"r":1.9875,"b":2.7125,"v":177},{"r":1.9875,"b":2.6875,"v":169},{"r":1.9875,"b":2.6625,"v":161},{"r":1.9875,"b":2.6375,"v":153},{"r":1.9875,"b":2.6125,"v":145},{"r":1.9875,"b":2.5875,"v":137},{"r":1.9875,"b":2.5625,"v":129},{"r":1.9875,"b":2.5375,"v":121},{"r":1.9875,"b":2.5125,"v":113},{"r":1.9875,"b":2.4875,"v":105},{"r":1.9875,"b":2.4625,"v":97},{"r":1.9875,"b":2.4375,"v":89},{"r":1.9875,"b":2.4125,"v":81},{"r":1.9875,"b":2.3875,"v":73},{"r":1.9875,"b":2.3625,"v":65},{"r":1.9875,"b":2.3375,"v":57},{"r":1.9875,"b":2.3125,"v":49},{"r":1.9875,"b":2.2875,"v":41},{"r":1.9875,"b":2.2625,"v":33},{"r":1.9875,"b":2.2375,"v":40},{"r":1.9875,"b":2.2125,"v":49},{"r":1.9875,"b":2.1875,"v":57},{"r":1.9875,"b":2.1625,"v":66},{"r":1.9875,"b":2.1375,"v":75},{"r":1.9875,"b":2.1125,"v":84}
],
"bar": [
{"lo":0,"hi":15,"mid":7.5},{"lo":15,"hi":30,"mid":22.5},{"lo":30,"hi":45,"mid":37.5},{"lo":45,"hi":60,"mid":52.5},{"lo":60,"hi":75,"mid":67.5},{"lo":75,"hi":90,"mid":82.5},{"lo":90,"hi":105,"mid":97.5},{"lo":105,"hi":120,"mid":112.5},{"lo":120,"hi":135,"mid":127.5},{"lo":135,"hi":150,"mid":142.5},{"lo":150,"hi":165,"mid":157.5},{"lo":165,"hi":180,"mid":172.5},{"lo":180,"hi":195,"mid":187.5},{"lo":195,"hi":210,"mid":202.5},{"lo":210,"hi":225,"mid":217.5},{"lo":225,"hi":240,"mid":232.5},{"lo":240,"hi":255,"mid":247.5},{"lo":255,"hi":270,"mid":262.5},{"lo":270,"hi":285,"mid":277.5},{"lo":285,"hi":300,"mid":292.5}
]
},
"hconcat": [
{
"width": 290, "height": 293,
"layer": [
{
"data": {"name": "grid"},
"mark": {"type": "rect", "strokeWidth": 0.6},
"encoding": {
"x": {"field": "r", "type": "quantitative", "bin": {"step": 0.025, "extent": [1.4, 2.0], "nice": false}, "scale": {"domain": [1.4, 2.0], "nice": false, "zero": false}, "title": "Radius of curvature, R₂\u00a0\u00a0\u00a0\u00a0\u00a0\u00a0\u00a0\u00a0\u00a0\u00a0\u00a0\u00a0[mm]", "axis": {"values": [1.4, 1.6, 1.8, 2.0], "format": ".3f", "labelFlush": false, "tickSize": 10, "labelPadding": 3, "titlePadding": 5, "titleFontSize": 30, "titleX": 127, "grid": false}},
"y": {"field": "b", "type": "quantitative", "bin": {"step": 0.025, "extent": [2.1, 3.0], "nice": false}, "scale": {"domain": [2.1, 3.0], "nice": false, "zero": false}, "title": "BF [mm]", "axis": {"values": [2.1, 2.2, 2.3, 2.4, 2.5, 2.6, 2.7, 2.8, 2.9, 3.0], "format": ".3f", "tickSize": 12, "labelPadding": 12, "titlePadding": 20, "titleFontSize": 30, "titleY": 120, "grid": false}},
"color": {"field": "v", "type": "quantitative", "scale": {"type": "quantize", "domain": [0, 300], "range": ["#444444","#505050","#5d5d5d","#707070","#878787","#9e9e9e","#c4c4c4","#e0e0e0","#dadada","#e0e0e0","#e4e4e4","#e8e8e8","#f2f2f2","#dcdcdc","#c0c0c0","#a2a2a2","#8e8e8e","#858585","#7b7b7b","#6f6f6f"]}, "legend": null},
"stroke": {"field": "v", "type": "quantitative", "scale": {"type": "quantize", "domain": [0, 300], "range": ["#444444","#505050","#5d5d5d","#707070","#878787","#9e9e9e","#c4c4c4","#e0e0e0","#dadada","#e0e0e0","#e4e4e4","#e8e8e8","#f2f2f2","#dcdcdc","#c0c0c0","#a2a2a2","#8e8e8e","#858585","#7b7b7b","#6f6f6f"]}, "legend": null}
}
},
{
"data": {"values": [{"cx": 1.669, "cy": 2.53}]},
"mark": {"type": "point", "shape": "M1,0C1,0.0759,0.5523,0.1375,0,0.1375C-0.5523,0.1375,-1,0.0759,-1,0C-1,-0.0759,-0.5523,-0.1375,0,-0.1375C0.5523,-0.1375,1,-0.0759,1,0Z", "size": 102400, "angle": 34.6, "filled": false, "color": "white", "stroke": "white", "strokeWidth": 3, "opacity": 1, "strokeOpacity": 1},
"encoding": {
"x": {"field": "cx", "type": "quantitative", "axis": null},
"y": {"field": "cy", "type": "quantitative", "axis": null}
}
},
{
"data": {"values": [{"x1": 1.586, "x2": 1.808, "y1": 2.857, "y2": 2.741}]},
"mark": {"type": "rect", "fill": "white", "stroke": "black", "strokeWidth": 1.5},
"encoding": {
"x": {"field": "x1", "type": "quantitative", "title": null, "axis": {"orient": "top", "values": [1.4, 1.6, 1.8, 2.0], "labels": false, "tickSize": 5, "grid": false, "domainColor": "#aaaaaa", "tickColor": "#999999"}},
"x2": {"field": "x2"},
"y": {"field": "y1", "type": "quantitative", "title": null, "axis": {"orient": "right", "values": [2.1, 2.2, 2.3, 2.4, 2.5, 2.6, 2.7, 2.8, 2.9, 3.0], "labels": false, "tickSize": 5, "grid": false, "domainColor": "#aaaaaa", "tickColor": "#999999"}},
"y2": {"field": "y2"}
}
},
{
"data": {"values": [{"tx": 1.697, "ty": 2.799, "label": "最適領域"}]},
"mark": {"type": "text", "font": "Noto Sans CJK JP", "fontSize": 19, "fontWeight": "bold", "color": "black", "align": "center", "baseline": "middle"},
"encoding": {
"x": {"field": "tx", "type": "quantitative", "axis": null},
"y": {"field": "ty", "type": "quantitative", "axis": null},
"text": {"field": "label"}
}
}
],
"resolve": {"axis": {"x": "independent", "y": "independent"}}
},
{
"width": 18, "height": 293,
"data": {"name": "bar"},
"mark": {"type": "rect", "stroke": "#333333", "strokeWidth": 1},
"encoding": {
"y": {"field": "lo", "type": "quantitative", "scale": {"domain": [0, 300], "range": [288, -7], "nice": false, "zero": false}, "title": null, "axis": {"orient": "right", "values": [0,15,30,45,60,75,90,105,120,135,150,165,180,195,210,225,240,255,270,285,300], "labelExpr": "datum.value >= 100 ? format(datum.value, '.1f') : datum.value >= 10 ? format(datum.value, '.2f') : format(datum.value, '.3f')", "ticks": false, "domain": false, "grid": false, "labelPadding": 5, "labelFont": "DejaVu Sans", "labelFontSize": 13, "labelOverlap": false, "labelFlush": false, "labelBound": false}},
"y2": {"field": "hi"},
"fill": {"field": "mid", "type": "quantitative", "scale": {"type": "quantize", "domain": [0, 300], "range": ["#444444","#505050","#5d5d5d","#707070","#878787","#9e9e9e","#c4c4c4","#e0e0e0","#dadada","#e0e0e0","#e4e4e4","#e8e8e8","#f2f2f2","#dcdcdc","#c0c0c0","#a2a2a2","#8e8e8e","#858585","#7b7b7b","#6f6f6f"]}, "legend": null}
}
}
],
"spacing": 21,
"bounds": "flush",
"config": {
"view": {"stroke": null},
"axis": {"labelFont": "Liberation Sans", "labelFontSize": 17, "labelColor": "#333333", "titleFont": "Liberation Serif", "titleFontSize": 22, "titleFontWeight": "normal", "titleColor": "#000000", "domainColor": "#999999", "tickColor": "#777777", "grid": false}
}
}
